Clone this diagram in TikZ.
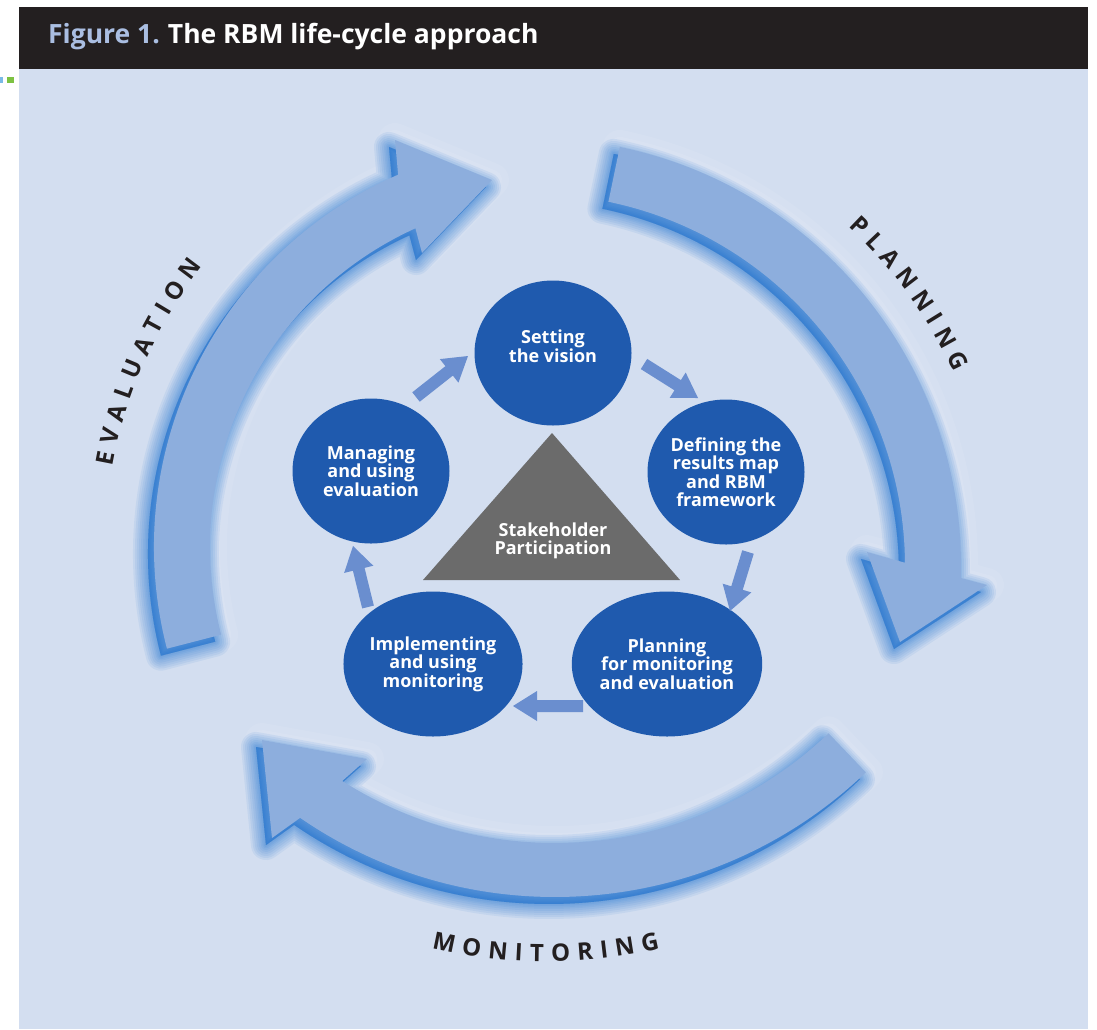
\documentclass[tikz,border=0pt]{standalone}
\usepackage{fontspec}
\setmainfont{Open Sans}
\usetikzlibrary{shapes.geometric,calc}

\definecolor{panel}{HTML}{D3DEF0}
\definecolor{headerbg}{HTML}{231F20}
\definecolor{figblue}{HTML}{AABEE2}
\definecolor{bandblue}{HTML}{8DAEDD}
\definecolor{shadowblue}{HTML}{0A66CC}
\definecolor{circblue}{HTML}{1F5AAE}
\definecolor{smallarr}{HTML}{6A8ECF}
\definecolor{trigray}{HTML}{6B6B6B}
\definecolor{labelink}{HTML}{231F20}
\definecolor{markblue}{HTML}{7ABAE6}
\definecolor{markgreen}{HTML}{7DC242}

\newcommand\labelfont{\bfseries\fontsize{24}{24}\selectfont}
\def\track{7.5}

\newcommand\evalband[1]{%
  \path[#1, shift={(560,-547)}] (194.5:406) arc[start angle=194.5, end angle=113.5, radius=406]
    -- (-165,407) -- (-68,367) -- (-138,294)
    -- (114.4:350) arc[start angle=114.4, end angle=194.5, radius=350] -- cycle;}
\newcommand\planband[1]{%
  \path[#1, shift={(533,-566)}] (78.3:428) arc[start angle=78.3, end angle=-1.6, radius=428]
    -- (454,-19) -- (367,-76) -- (334,14)
    -- (0.5:372) arc[start angle=0.5, end angle=78.3, radius=372] -- cycle;}
\newcommand\monband[1]{%
  \path[#1, shift={(555,-447)}] (-46.3:450) arc[start angle=-46.3, end angle=-124.5, radius=450]
    -- (-283,-391) -- (-293,-293) -- (-188,-312)
    -- (-122.5:396) arc[start angle=-122.5, end angle=-46.3, radius=396] -- cycle;}
\newcommand\blockarrow[2]{%
  \fill[smallarr] let \p1=(#1), \p2=(#2), \n1={atan2(\y2-\y1,\x2-\x1)}, \n2={veclen(\x2-\x1,\y2-\y1)-24} in
    ($(#1)+(\n1+90:6)$) -- ($(#1)+(\n1:\n2)+(\n1+90:6)$) -- ($(#1)+(\n1:\n2)+(\n1+90:15)$)
    -- (#2) -- ($(#1)+(\n1:\n2)+(\n1-90:15)$) -- ($(#1)+(\n1:\n2)+(\n1-90:6)$)
    -- ($(#1)+(\n1-90:6)$) -- cycle;}
% letters along an arc: #1 centre, #2 baseline radius, #3 middle angle, #4 direction, #5 letters, #6 name prefix
\newcommand\arcletters[6]{%
  \xdef\arctot{0}%
  \foreach \ch in {#5}{%
    \labelfont
    \pgfmathsetmacro\chw{width("\ch")}%
    \pgfmathsetmacro\newtot{\arctot+\chw+\track}%
    \xdef\arctot{\newtot}%
  }%
  \pgfmathsetmacro\arcL{\arctot-\track}%
  \xdef\arcL{\arcL}%
  \xdef\arccum{0}%
  \foreach \ch [count=\i] in {#5}{%
    \labelfont
    \pgfmathsetmacro\chw{width("\ch")}%
    \pgfmathsetmacro\sc{\arccum+\chw/2-\arcL/2}%
    \pgfmathsetmacro\ang{#3+(#4)*\sc/#2*180/pi}%
    \pgfmathsetmacro\rot{\ang+(#4)*90}%
    \node[biglabel, anchor=base, rotate=\rot] (#6\i) at ($#1+(\ang:#2)$) {\ch};
    \pgfmathsetmacro\newcum{\arccum+\chw+\track}%
    \xdef\arccum{\newcum}%
  }%
}

\tikzset{
  circnode/.style={ellipse, fill=circblue, minimum width=157pt, minimum height=145pt, inner sep=0pt,
    text=white, font=\bfseries\fontsize{18}{18.5}\selectfont, align=center},
  circtext/.style={text=white, font=\bfseries\fontsize{18}{18.5}\selectfont, align=center},
  biglabel/.style={text=labelink, font=\labelfont, inner sep=0pt},
  glowstyle/.style={fill=white, draw=white, line join=round},
  shadowstyle/.style={fill=shadowblue, draw=shadowblue, line join=round, shift={(-6,-7)}},
}

\begin{document}
\begin{tikzpicture}[x=1pt,y=1pt]
\useasboundingbox (0,0) rectangle (1097,-1029);
% panel and header
\fill[panel] (19,-69) rectangle (1088,-1029);
\fill[headerbg] (19,-7) rectangle (1088,-69);
\node[anchor=base west, inner sep=0pt, font=\bfseries\fontsize{26.5}{26.5}\selectfont] (title) at (48,-43)
  {\textcolor{figblue}{Figure 1.}\hspace{8pt}\textcolor{white}{The RBM life-cycle approach}};
\fill[markblue] (0,-77) rectangle (3,-83);
\fill[markgreen] (7,-77) rectangle (14,-83);

% big arrows: glow, shadow, band
\foreach \w/\o in {34pt/0.07,20pt/0.09}{
  \evalband{glowstyle, line width=\w, opacity=\o}
  \planband{glowstyle, line width=\w, opacity=\o}
  \monband{glowstyle, line width=\w, opacity=\o}
}
\foreach \w in {30pt,26pt,22pt,18pt,14pt,10pt,7pt,4pt,1pt}{
  \evalband{shadowstyle, line width=\w, opacity=0.075}
  \planband{shadowstyle, line width=\w, opacity=0.075}
  \monband{shadowstyle, line width=\w, opacity=0.075}
}
\evalband{fill=bandblue}
\planband{fill=bandblue}
\monband{fill=bandblue}

% curved labels
\arcletters{(560,-547)}{454.5}{155.8}{-1}{E,V,A,L,U,A,T,I,O,N}{ev}
\arcletters{(533,-566)}{463.5}{35.9}{-1}{P,L,A,N,N,I,N,G}{pl}
\arcletters{(545,-450)}{511.5}{-89.9}{1}{M,O,N,I,T,O,R,I,N,G}{mo}

% triangle
\coordinate (tA) at (552,-433);
\coordinate (tB) at (423,-580);
\coordinate (tC) at (680,-580);
\fill[trigray] (tA) -- (tB) -- (tC) -- cycle;
\node[circtext] (stake) at (553,-541) {Stakeholder\\Participation};

% circles
\node[circnode, label={[circtext, yshift=7pt]center:Setting\\the vision}] (sv) at (553,-353) {};
\node[circnode] (def) at (726,-472) {Defining the\\results map\\and RBM\\framework};
\node[circnode] (pme) at (667,-664) {Planning\\for monitoring\\and evaluation};
\node[circnode] (imp) at (433,-664) {Implementing\\and using\\monitoring};
\node[circnode] (man) at (371,-471) {Managing\\and using\\evaluation};

% small arrows
\coordinate (a1s) at (416,-397); \coordinate (a1e) at (468,-356);
\coordinate (a2s) at (644,-364); \coordinate (a2e) at (698,-398);
\coordinate (a3s) at (748,-552); \coordinate (a3e) at (730,-611);
\coordinate (a4s) at (583,-706); \coordinate (a4e) at (513,-706);
\coordinate (a5s) at (368,-607); \coordinate (a5e) at (353,-546);
\blockarrow{a1s}{a1e}
\blockarrow{a2s}{a2e}
\blockarrow{a3s}{a3e}
\blockarrow{a4s}{a4e}
\blockarrow{a5s}{a5e}
\end{tikzpicture}
\end{document}
